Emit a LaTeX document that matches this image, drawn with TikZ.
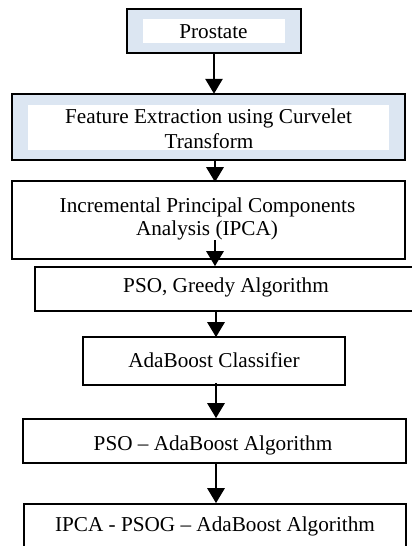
\documentclass[tikz,border=0pt]{standalone}
\usepackage{fontspec}
\setmainfont{Liberation Serif}
\usetikzlibrary{arrows.meta}
\definecolor{paleblue}{RGB}{220,230,242}
\begin{document}
\begin{tikzpicture}[x=1pt,y=-1pt,
  box/.style={draw=black,line width=1.6pt,fill=white,inner sep=0pt},
  bluebox/.style={draw=black,line width=1.9pt,fill=paleblue,inner sep=0pt},
  inner/.style={fill=white,draw=none,inner sep=0pt},
  txt/.style={anchor=base,inner sep=0pt,font=\fontsize{21.2}{25}\selectfont},
  arr/.style={line width=2.8pt,-{Triangle[length=15pt,width=17pt]}}]
\useasboundingbox (0,0) rectangle (412,546);
\clip (0,0) rectangle (412,546);
% boxes, corners given as (left,top) and (right,bottom)
\path[bluebox] (127,9) rectangle (301,53);
\path[inner] (143,19) rectangle (285,43);
\node[inner sep=0pt,minimum width=174pt,minimum height=44pt] (prost) at (214,31) {};
\path[bluebox] (12,94) rectangle (405,160);
\path[inner] (28,105) rectangle (389,150);
\node[inner sep=0pt,minimum width=393pt,minimum height=66pt] (feat) at (208.5,127) {};
\node[box,minimum width=393pt,minimum height=78pt] (ipca) at (208.5,220) {};
\node[box,minimum width=400pt,minimum height=44pt] (pso) at (235,289) {};
\node[box,minimum width=262pt,minimum height=48pt] (ada) at (214,361) {};
\node[box,minimum width=383pt,minimum height=44pt] (psoada) at (214.5,441) {};
\node[box,minimum width=382pt,minimum height=60pt] (final) at (215,534) {};
% labels
\node[txt] (t1) at (213.5,38) {Prostate};
\node[txt] (t2a) at (208.5,123) {Feature Extraction using Curvelet};
\node[txt] (t2b) at (209,148) {Transform};
\node[txt] (t3a) at (207.5,212) {Incremental Principal Components};
\node[txt] (t3b) at (207,235.5) {Analysis (IPCA)};
\node[txt] (t4) at (226,292) {PSO, Greedy Algorithm};
\node[txt] (t5) at (214,367) {AdaBoost Classifier};
\node[txt] (t6) at (213,450) {PSO -- AdaBoost Algorithm};
\node[txt] (t7) at (215,531) {IPCA - PSOG -- AdaBoost Algorithm};
% connectors
\coordinate (s3) at (215,240);
\draw[arr] (prost.south) -- (prost.south |- feat.north);
\draw[arr] (feat.south -| 215,0) -- ([yshift=-2pt]ipca.north -| 215,0);
\draw[arr] (s3) -- (s3 |- pso.north);
\draw[arr] (pso.south -| 216,0) -- ([yshift=-1pt]ada.north -| 216,0);
\draw[arr] ([yshift=3pt]ada.south -| 216,0) -- (psoada.north -| 216,0);
\draw[arr] (psoada.south -| 216,0) -- (final.north -| 216,0);
\end{tikzpicture}
\end{document}
